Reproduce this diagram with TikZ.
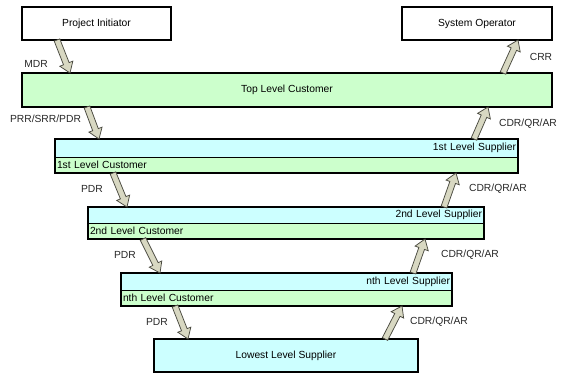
\documentclass[tikz,border=0pt]{standalone}
\usepackage{fontspec}
\setmainfont{Liberation Sans}
\usetikzlibrary{calc}
\definecolor{cgreen}{HTML}{CCFFCC}
\definecolor{ccyan}{HTML}{CCFFFF}
\definecolor{afill}{HTML}{D8D8C2}
\definecolor{aline}{HTML}{4A4A40}
\newcommand\fatarrow[2]{%
\path[fatarr] let \p1=(#1), \p2=(#2), \n1={atan2(\y2-\y1,\x2-\x1)}, \n2={veclen(\x2-\x1,\y2-\y1)-10}, \n3={veclen(\x2-\x1,\y2-\y1)} in
 ($(\p1)+({\n1-90}:3pt)$) -- ($(\p1)+(\n1:{\n2*1pt})+({\n1-90}:3pt)$) -- ($(\p1)+(\n1:{\n2*1pt})+({\n1-90}:7pt)$) -- ($(\p1)+(\n1:{\n3*1pt})$) -- ($(\p1)+(\n1:{\n2*1pt})+({\n1+90}:7pt)$) -- ($(\p1)+(\n1:{\n2*1pt})+({\n1+90}:3pt)$) -- ($(\p1)+({\n1+90}:3pt)$) -- cycle;}
\begin{document}
\begin{tikzpicture}[x=1pt,y=-1pt, font=\fontsize{10.3}{12}\selectfont,
 every node/.style={inner sep=0pt, outer sep=0pt},
 box/.style={draw, line width=1.6pt, rectangle, inner sep=0pt, anchor=north west},
 half/.style={rectangle, inner xsep=2pt, inner ysep=0pt, anchor=north west},
 frame/.style={line width=1.6pt},
 divider/.style={line width=0.6pt},
 fatarr/.style={fill=afill, draw=aline, line width=0.75pt, line join=miter},
 lbl/.style={text=black!85}]
\useasboundingbox (0,0) rectangle (562,376);
% top boxes
\node[box, fill=white, minimum width=149pt, minimum height=33pt] (pi) at (22,7) {Project Initiator};
\node[box, fill=white, minimum width=150pt, minimum height=33pt] (so) at (402,7) {System Operator};
\node[box, fill=cgreen, minimum width=530pt, minimum height=34pt] (tlc) at (22,73) {Top Level Customer};
% level 1
\node[half, fill=ccyan, text width=459pt, align=right, minimum height=18pt] (s1) at (55,139) {1st Level Supplier};
\node[half, fill=cgreen, text width=459pt, align=left, minimum height=16pt] (c1) at (55,157) {1st Level Customer};
\draw[divider] (s1.south west) -- (s1.south east);
\draw[frame] (s1.north west) rectangle (c1.south east);
% level 2
\node[half, fill=ccyan, text width=392pt, align=right, minimum height=16.5pt] (s2) at (88,207) {2nd Level Supplier};
\node[half, fill=cgreen, text width=392pt, align=left, minimum height=15.5pt] (c2) at (88,223.5) {2nd Level Customer};
\draw[divider] (s2.south west) -- (s2.south east);
\draw[frame] (s2.north west) rectangle (c2.south east);
% level n
\node[half, fill=ccyan, text width=327pt, align=right, minimum height=17pt] (sn) at (121,273) {nth Level Supplier};
\node[half, fill=cgreen, text width=327pt, align=left, minimum height=16pt] (cn) at (121,290) {nth Level Customer};
\draw[divider] (sn.south west) -- (sn.south east);
\draw[frame] (sn.north west) rectangle (cn.south east);
% lowest
\node[box, fill=ccyan, minimum width=264pt, minimum height=33pt] (ll) at (154,339) {Lowest Level Supplier};
% arrows down
\fatarrow{[xshift=35pt]pi.south west}{[xshift=48pt]tlc.north west}
\fatarrow{[xshift=65pt]tlc.south west}{[xshift=44pt]s1.north west}
\fatarrow{[xshift=58pt]c1.south west}{[xshift=39pt]s2.north west}
\fatarrow{[xshift=55pt]c2.south west}{[xshift=39pt]sn.north west}
\fatarrow{[xshift=54pt]cn.south west}{[xshift=34pt]ll.north west}
% arrows up
\fatarrow{[xshift=-49pt]tlc.north east}{[xshift=-34pt]so.south east}
\fatarrow{[xshift=-44pt]s1.north east}{[xshift=-64pt]tlc.south east}
\fatarrow{[xshift=-40pt]s2.north east}{[xshift=-62pt]c1.south east}
\fatarrow{[xshift=-39pt]sn.north east}{[xshift=-59pt]c2.south east}
\fatarrow{[xshift=-33pt]ll.north east}{[xshift=-50pt]cn.south east}
% labels
\node[lbl] (lmdr) at (36,64) {MDR};
\node[lbl] (lprr) at (45.5,119) {PRR/SRR/PDR};
\node[lbl] (lcrr) at (541,57) {CRR};
\node[lbl] (lcdr0) at (528,124) {CDR/QR/AR};
\node[lbl] (lpdr1) at (92,189) {PDR};
\node[lbl] (lcdr1) at (498,189) {CDR/QR/AR};
\node[lbl] (lpdr2) at (125,255) {PDR};
\node[lbl] (lcdr2) at (470,255) {CDR/QR/AR};
\node[lbl] (lpdr3) at (157,322) {PDR};
\node[lbl] (lcdr3) at (439,322) {CDR/QR/AR};
\end{tikzpicture}
\end{document}
